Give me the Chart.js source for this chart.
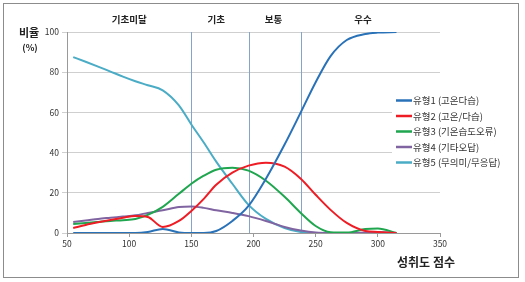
<!DOCTYPE html>
<html>
<head>
<meta charset="utf-8">
<script src="https://cdn.jsdelivr.net/npm/chart.js@4"></script>
<style>
  html, body { margin: 0; padding: 0; background: #fff; }
  #wrap { position: absolute; left: 0; top: 0; width: 525px; height: 282px; }
  #frame { position: absolute; left: 3px; top: 3px; width: 514px; height: 273px; border: 1px solid #8c8c8c; pointer-events: none; }
</style>
</head>
<body>
<div id="wrap">
  <canvas id="chart" width="525" height="282"></canvas>
  <div id="frame"></div>
</div>
<script>
const FONT = '"Noto Sans CJK KR", "Noto Sans", sans-serif';

// 성취도 점수 (x)
const scores = [55, 65, 75, 85, 95, 105, 115, 127, 140, 150, 160, 170, 183, 196, 210, 225, 238, 250, 262, 275, 290, 300, 315];

const seriesNames = ['유형1 (고온다습)', '유형2 (고온/다습)', '유형3 (기온습도오류)', '유형4 (기타오답)', '유형5 (무의미/무응답)'];
const seriesColors = ['#2a72b8', '#ee1c24', '#1fa64f', '#8064a2', '#4bacc6'];

const type1 = [0, 0, 0, 0, 0, 0, 0.5, 2, 0.3, 0, 0, 1, 6, 13.5, 27, 44, 60, 75, 88, 96, 99, 99.7, 100];
const type2 = [2.5, 4, 5.3, 6.5, 7.6, 8.5, 8, 3, 6, 11, 17, 24, 30, 33.5, 35, 33, 27, 19, 11.5, 5, 1, 0.5, 0];
const type3 = [4.5, 5, 5.5, 6, 6.4, 7, 9, 13, 19.5, 24.5, 28.5, 31.5, 32.5, 31, 26, 18, 10, 3.5, 0.4, 0.2, 2, 2.3, 0];
const type4 = [5.5, 6.2, 7, 7.6, 8.2, 8.8, 10, 11.3, 12.9, 13.2, 12.5, 11.3, 10, 8.4, 6, 3, 1.2, 0.2, 0, 0, 0.3, 0.5, 0];
const type5 = [87.5, 85.2, 82.8, 80.3, 77.8, 75.5, 73.5, 71, 63.5, 54, 45, 35.5, 24.5, 14, 7, 2.5, 0.5, 0, 0, 0, 0, 0, 0];

// 성취수준 구분 점수와 이름
const cutScores = [150, 196, 238];
const levelNames = ['기초미달', '기초', '보통', '우수'];
const levelLabelScores = [100, 170, 216, 288];

const xTicks = [50, 100, 150, 200, 250, 300, 350];
const yTicks = [0, 20, 40, 60, 80, 100];

const allSeries = [type1, type2, type3, type4, type5];

const datasets = allSeries.map((vals, i) => ({
    label: seriesNames[i],
    data: scores.map((s, j) => ({ x: s, y: vals[j] })),
    borderColor: seriesColors[i],
    backgroundColor: seriesColors[i],
    borderWidth: 2,
    pointRadius: 0,
    cubicInterpolationMode: 'monotone',
    fill: false
}));

// 구분선 + 수준 이름 + 축 제목 + 범례
const decor = {
    id: 'decor',
    beforeDatasetsDraw(chart) {
        const { ctx, chartArea, scales } = chart;
        ctx.save();
        ctx.strokeStyle = '#86a3cc';
        ctx.lineWidth = 1;
        cutScores.forEach(v => {
            const px = Math.round(scales.x.getPixelForValue(v)) + 0.5;
            ctx.beginPath();
            ctx.moveTo(px, chartArea.top);
            ctx.lineTo(px, chartArea.bottom);
            ctx.stroke();
        });
        ctx.restore();
    },
    afterDraw(chart) {
        const { ctx, scales } = chart;
        ctx.save();
        ctx.fillStyle = '#222';
        ctx.textAlign = 'center';
        ctx.textBaseline = 'middle';
        ctx.font = 'bold 9.5px ' + FONT;
        levelNames.forEach((name, i) => {
            ctx.fillText(name, scales.x.getPixelForValue(levelLabelScores[i]), 19);
        });

        ctx.font = 'bold 11px ' + FONT;
        ctx.fillText('비율', 29, 33);
        ctx.font = 'bold 9px ' + FONT;
        ctx.fillText('(%)', 30, 48);
        ctx.font = 'bold 12px ' + FONT;
        ctx.fillText('성취도 점수', 426, 262);

        // 범례
        ctx.fillStyle = '#fff';
        ctx.fillRect(392, 90, 115, 82);
        ctx.textAlign = 'left';
        ctx.font = '9.5px ' + FONT;
        seriesNames.forEach((name, i) => {
            const y = 100.5 + i * 15.5;
            ctx.strokeStyle = seriesColors[i];
            ctx.lineWidth = 2.5;
            ctx.beginPath();
            ctx.moveTo(396, y);
            ctx.lineTo(412, y);
            ctx.stroke();
            ctx.fillStyle = '#333';
            ctx.fillText(name, 413, y);
        });
        ctx.restore();
    }
};

new Chart(document.getElementById('chart'), {
    type: 'line',
    data: { datasets: datasets },
    options: {
        responsive: false,
        animation: false,
        layout: { padding: { left: 0, top: 32, right: 85, bottom: 0 } },
        plugins: {
            legend: { display: false },
            tooltip: { enabled: false }
        },
        scales: {
            x: {
                type: 'linear',
                min: 50,
                max: 350,
                afterBuildTicks: axis => { axis.ticks = xTicks.map(v => ({ value: v })); },
                afterFit: axis => { axis.height = 49; },
                grid: { drawOnChartArea: false, color: '#9a9a9a', tickLength: 4 },
                border: { color: '#9a9a9a' },
                ticks: { color: '#333', font: { family: FONT, size: 8.5 }, padding: 2, maxRotation: 0 }
            },
            y: {
                min: 0,
                max: 100,
                afterBuildTicks: axis => { axis.ticks = yTicks.map(v => ({ value: v })); },
                afterFit: axis => { axis.width = 67; },
                grid: { color: '#cfcfcf', tickLength: 5 },
                border: { color: '#9a9a9a' },
                ticks: { color: '#333', font: { family: FONT, size: 8.5 }, padding: 3 }
            }
        }
    },
    plugins: [decor]
});
</script>
</body>
</html>
